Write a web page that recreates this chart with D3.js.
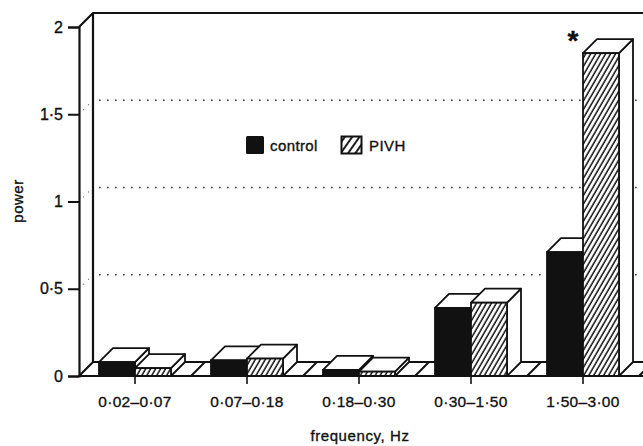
<!DOCTYPE html>
<html><head><meta charset="utf-8">
<script src="https://cdn.jsdelivr.net/npm/d3@7"></script>
<style>
html,body{margin:0;padding:0;background:#fff;}
svg{display:block;}
text{font-family:"Liberation Sans",Arial,Helvetica,sans-serif;fill:#111;stroke:#111;stroke-width:0.35px;}
</style></head>
<body>
<svg id="chart" width="643" height="446"></svg>
<script>
// ---- data ----
const categories = ["0·02–0·07","0·07–0·18","0·18–0·30","0·30–1·50","1·50–3·00"];
const control = [0.08, 0.09, 0.035, 0.39, 0.71];
const pivh    = [0.045, 0.10, 0.025, 0.42, 1.85];
const yTicks  = [0, 0.5, 1, 1.5, 2];
const gridValues = [0.5, 1, 1.5];
const significant = [false,false,false,false,true];
const seriesNames = ["control","PIVH"];

const svg = d3.select("#chart");
const ink = "#111";
const D = 14; // depth offset

const x = d3.scaleBand().domain(categories).range([79, 639]).paddingInner(0).paddingOuter(0);
const y = d3.scaleLinear().domain([0, 2]).range([376, 27]);
const barW = 36;

// hatch patterns
const defs = svg.append("defs");
defs.append("pattern").attr("id","hatch").attr("patternUnits","userSpaceOnUse")
  .attr("width",4.3).attr("height",10).attr("patternTransform","rotate(30)")
  .append("line").attr("x1",1).attr("y1",0).attr("x2",1).attr("y2",10)
  .attr("stroke",ink).attr("stroke-width",1.5);
defs.append("pattern").attr("id","hatchL").attr("patternUnits","userSpaceOnUse")
  .attr("width",6).attr("height",10).attr("patternTransform","rotate(35)")
  .append("line").attr("x1",1).attr("y1",0).attr("x2",1).attr("y2",10)
  .attr("stroke",ink).attr("stroke-width",1.9);

const x0 = 79, xR = 700, y0 = y(0), yTop = y(2);

// back wall gridlines (dotted)
svg.append("g").selectAll("line").data(gridValues).join("line")
  .attr("x1", x0 + D + 6).attr("x2", 643)
  .attr("y1", d => y(d) - D).attr("y2", d => y(d) - D)
  .attr("stroke", "#444").attr("stroke-width", 1.7).attr("stroke-dasharray", "1.7,6.3");
// side wall gridlines
svg.append("g").selectAll("line").data(gridValues).join("line")
  .attr("x1", x0).attr("x2", x0 + D)
  .attr("y1", d => y(d)).attr("y2", d => y(d) - D)
  .attr("stroke", "#666").attr("stroke-width", 1.2).attr("stroke-dasharray", "1,6").attr("stroke-dashoffset", -6);

// frame: back wall left edge, top line, side diag
const frame = svg.append("g").attr("fill","none").attr("stroke",ink).attr("stroke-width",2.2);
frame.append("path").attr("d", `M${x0},${yTop}L${x0+D},${yTop-D}L${xR},${yTop-D}`);
frame.append("path").attr("d", `M${x0+D},${yTop-D}L${x0+D},${y0-D}`);
// floor
frame.append("path").attr("d", `M${x0},${y0}L${x0+D},${y0-D}L${xR},${y0-D}`);
frame.append("path").attr("d", `M${x0},${y0}L${xR},${y0}`);
// floor diagonals at category boundaries
const bounds = categories.map(c => x(c) + x.bandwidth());
svg.append("g").selectAll("line").data(bounds).join("line")
  .attr("x1", d => d).attr("y1", y0).attr("x2", d => d + D).attr("y2", y0 - D)
  .attr("stroke", ink).attr("stroke-width", 2);

// bars
function bar3d(g, xl, v, fill) {
  const yt = y(v);
  const xr = xl + barW;
  g.append("path").attr("d", `M${xr},${y0}L${xr+D},${y0-D}L${xr+D},${yt-D}L${xr},${yt}Z`)
    .attr("fill","#fff").attr("stroke",ink).attr("stroke-width",1.8).attr("stroke-linejoin","round");
  g.append("path").attr("d", `M${xl},${yt}L${xl+D},${yt-D}L${xr+D},${yt-D}L${xr},${yt}Z`)
    .attr("fill","#fff").attr("stroke",ink).attr("stroke-width",1.8).attr("stroke-linejoin","round");
  if (fill === "hatch") {
    g.append("rect").attr("x",xl).attr("y",yt).attr("width",barW).attr("height",y0-yt).attr("fill","#fff");
  }
  g.append("rect").attr("x",xl).attr("y",yt).attr("width",barW).attr("height",y0-yt)
    .attr("fill", fill === "hatch" ? "url(#hatch)" : ink)
    .attr("stroke",ink).attr("stroke-width",1.8);
}
const bars = svg.append("g");
categories.forEach((c, i) => {
  const cx = x(c) + x.bandwidth()/2;
  bar3d(bars.append("g"), cx - barW, control[i], "solid");
  bar3d(bars.append("g"), cx, pivh[i], "hatch");
});
svg.append("line").attr("x1",x0).attr("x2",643).attr("y1",y0).attr("y2",y0).attr("stroke",ink).attr("stroke-width",2.2);

// significance star
svg.append("g").selectAll("text").data(categories.filter((c,i)=>significant[i])).join("text")
  .attr("x", c => x(c) + x.bandwidth()/2 - 10).attr("y", 50)
  .attr("text-anchor","middle").attr("font-size",28).attr("font-weight","bold").text("*");

// y axis
const yAxis = d3.axisLeft(y).tickValues(yTicks).tickSize(11).tickPadding(5)
  .tickFormat(d => String(d).replace(".", "·"));
const ya = svg.append("g").attr("transform", `translate(${x0},0)`).call(yAxis);
ya.select(".domain").attr("stroke",ink).attr("stroke-width",2.2);
ya.selectAll(".tick line").attr("stroke",ink).attr("stroke-width",2);
ya.selectAll(".tick text").attr("font-size",16).attr("fill",ink).attr("stroke",ink).attr("stroke-width",0.6)
  .attr("font-family","'Liberation Sans',Arial,sans-serif");

// x axis
const xAxis = d3.axisBottom(x).tickSize(8).tickPadding(12);
const xa = svg.append("g").attr("transform", `translate(0,${y0})`).call(xAxis);
xa.select(".domain").remove();
xa.selectAll(".tick line").attr("stroke",ink).attr("stroke-width",1.6);
xa.selectAll(".tick text").attr("font-size",15.5).attr("fill",ink).attr("stroke",ink).attr("stroke-width",0.35)
  .attr("letter-spacing","0.3").attr("font-family","'Liberation Sans',Arial,sans-serif");

// axis titles
svg.append("text").attr("transform","translate(23,201) rotate(-90)")
  .attr("text-anchor","middle").attr("font-size",15).attr("letter-spacing","0.5").text("power");
svg.append("text").attr("x",360).attr("y",441).attr("text-anchor","middle")
  .attr("font-size",15).attr("letter-spacing","0.6").text("frequency, Hz");

// legend
const leg = svg.append("g");
leg.append("rect").attr("x",246).attr("y",136).attr("width",18).attr("height",18).attr("fill",ink).attr("rx",1.5);
leg.append("text").attr("x",270).attr("y",151).attr("font-size",15).attr("stroke-width",0.5).attr("letter-spacing","0.4").text(seriesNames[0]);
leg.append("rect").attr("x",341.5).attr("y",136.5).attr("width",20).attr("height",17).attr("fill","url(#hatchL)")
  .attr("stroke",ink).attr("stroke-width",2);
leg.append("text").attr("x",369).attr("y",151).attr("font-size",15).attr("stroke-width",0.5).attr("letter-spacing","0.4").text(seriesNames[1]);
</script>
</body></html>
